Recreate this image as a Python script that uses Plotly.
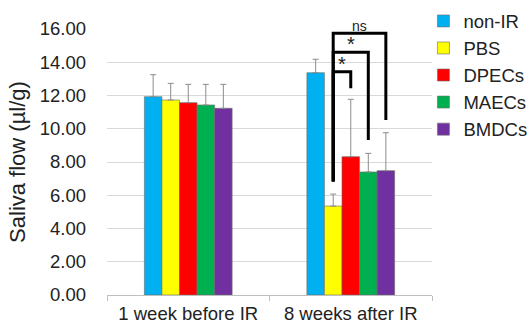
import plotly.graph_objects as go

categories = ["1 week before IR", "8 weeks after IR"]
groups = ["non-IR", "PBS", "DPECs", "MAECs", "BMDCs"]
colors = ["#00B0F0", "#FFFF00", "#FF0000", "#00B050", "#7030A0"]
means = {
    "non-IR": [11.93, 13.37],
    "PBS":    [11.73, 5.35],
    "DPECs":  [11.57, 8.32],
    "MAECs":  [11.43, 7.40],
    "BMDCs":  [11.23, 7.48],
}
sd = {
    "non-IR": [1.32, 0.81],
    "PBS":    [1.00, 0.72],
    "DPECs":  [1.10, 3.45],
    "MAECs":  [1.24, 1.12],
    "BMDCs":  [1.44, 2.28],
}
# significance brackets: (from group, to group, top y, left bottom y, right bottom y, label)
brackets = [
    ("PBS", "BMDCs", 15.74, 6.82, 10.53, "ns"),
    ("PBS", "MAECs", 14.60, 6.82, 9.32, "*"),
    ("PBS", "DPECs", 13.43, 6.82, 12.43, "*"),
]

xs = [0, 1]
bargap = 0.46
n = len(groups)
bw = (1 - bargap) / n

fig = go.Figure()
for g, c in zip(groups, colors):
    fig.add_trace(go.Bar(
        x=xs, y=means[g], name=g, legendgroup=g,
        marker=dict(color=c, line=dict(color="#6b6b6b", width=0.6)),
        error_y=dict(type="data", symmetric=False, array=sd[g], arrayminus=[0, 0],
                     color="#8c8c8c", thickness=1, width=3),
    ))

def gx(name, cat=1):
    i = groups.index(name)
    return xs[cat] - (1 - bargap) / 2 + (i + 0.5) * bw

for a, b, top, lb, rb, lab in brackets:
    x0, x1 = gx(a), gx(b)
    fig.add_shape(type="path",
                  path=f"M {x0},{lb} L {x0},{top} L {x1},{top} L {x1},{rb}",
                  xref="x", yref="y", line=dict(color="black", width=3))
    fig.add_annotation(x=(x0 + x1) / 2, y=top, text=lab, showarrow=False,
                       yanchor="bottom", yshift=-5 if lab == "*" else -3,
                       font=dict(size=20 if lab == "*" else 14, color="#222"))

fig.update_layout(
    width=530, height=324,
    margin=dict(l=107, r=98, t=29, b=29, autoexpand=False),
    plot_bgcolor="white", paper_bgcolor="white",
    barmode="group", bargap=bargap, bargroupgap=0,
    font=dict(family="Liberation Sans, Arial, sans-serif", size=18.5, color="#222"),
    showlegend=True,
    legend=dict(x=1.309, y=1.1, xanchor="right", yanchor="top",
                traceorder="grouped", tracegroupgap=0,
                font=dict(size=18.5), bgcolor="rgba(0,0,0,0)"),
    xaxis=dict(range=[-0.5, 1.5], tickvals=xs, ticktext=categories, automargin=False,
               showgrid=False, zeroline=False, showline=True, linecolor="#bfbfbf",
               ticks="", ticklabelstandoff=2,
               minor=dict(tickvals=[-0.5, 0.5, 1.5], ticks="outside", ticklen=5,
                          tickcolor="#bfbfbf", showgrid=False)),
    yaxis=dict(range=[0, 16], dtick=2, tickformat=".2f", automargin=False,
               showgrid=True, gridcolor="#d9d9d9", zeroline=False, showline=False,
               ticklabelstandoff=20,
               title=dict(text="Saliva flow (µl/g)", standoff=8)),
)

fig.write_html(
    "out.html",
    config={"displayModeBar": False},
    post_script="document.body.style.margin='0';document.body.style.overflow='hidden';",
)
